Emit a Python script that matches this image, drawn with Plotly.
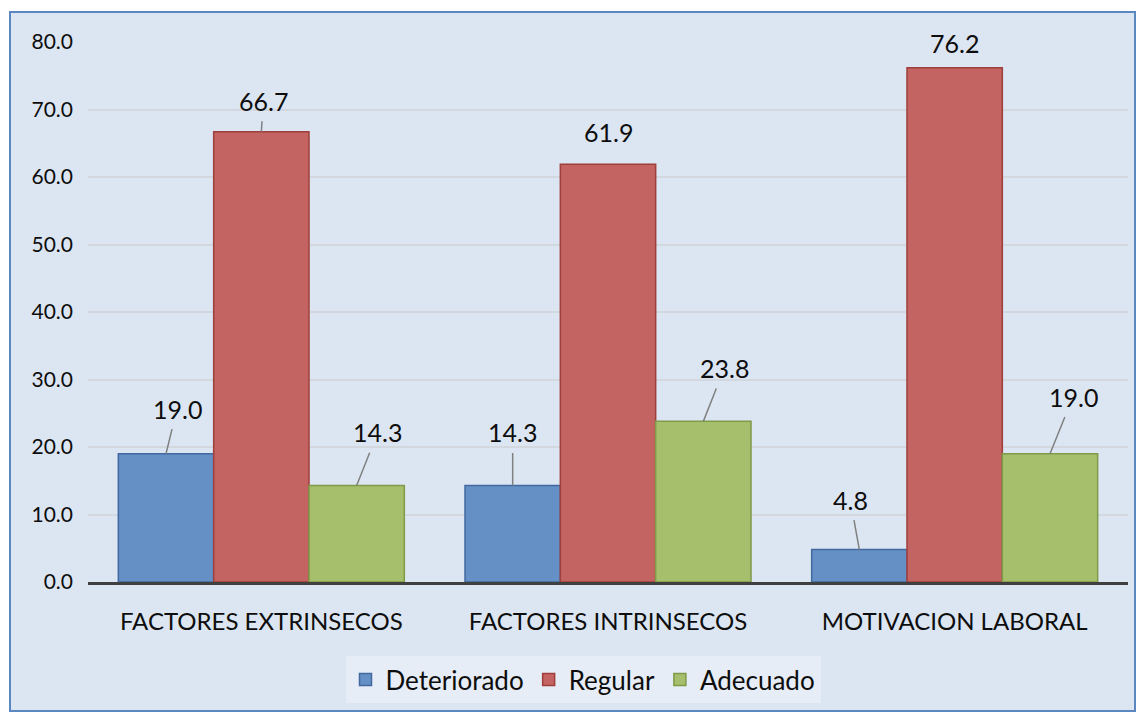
import plotly.graph_objects as go

categories = ["FACTORES EXTRINSECOS", "FACTORES INTRINSECOS", "MOTIVACION LABORAL"]
series_names = ["Deteriorado", "Regular", "Adecuado"]
deteriorado = [19.0, 14.3, 4.8]
regular = [66.7, 61.9, 76.2]
adecuado = [14.3, 23.8, 19.0]
y_ticks = [0, 10, 20, 30, 40, 50, 60, 70, 80]

values = [deteriorado, regular, adecuado]
fills = ["#6490c6", "#c46462", "#a5bf6c"]
outlines = ["#41699f", "#9e3f3c", "#7e9b48"]

# label offsets (pixels) for the data-label callouts: (ax, ay, draw_line)
label_offsets = [
    [(11, -45, True), (0, -53, True), (-9, -50, True)],
    [(2, -31, True), (0, -32, False), (0, -25, False)],
    [(21, -53, True), (21, -53, True), (23, -57, True)],
]

FONT = "Lato"
TXT = "#0d0d0d"
bargap = 0.175
bar_w = (1 - bargap) / 3

fig = go.Figure()
xs = list(range(len(categories)))
for k, name in enumerate(series_names):
    fig.add_trace(go.Bar(
        x=xs, y=values[k], name=name,
        marker=dict(color=fills[k], line=dict(color=outlines[k], width=1.5)),
    ))

annotations = []
for k in range(3):
    for i in xs:
        v = values[k][i]
        xc = i + (k - 1) * bar_w
        ax, ay, line = label_offsets[k][i]
        if line:
            annotations.append(dict(
                x=xc, y=v, xref="x", yref="y", text=f"{v:.1f}",
                showarrow=True, arrowhead=0, arrowwidth=1.5, arrowcolor="#808080",
                ax=ax, ay=ay, standoff=0, startstandoff=4,
                font=dict(family=FONT, size=25, color=TXT),
            ))
        else:
            annotations.append(dict(
                x=xc, y=v, xref="x", yref="y", text=f"{v:.1f}",
                showarrow=False, yshift=-ay, xshift=ax,
                font=dict(family=FONT, size=25, color=TXT),
            ))

L, R, T, B = 88, 17, 42, 140
W, H = 1145, 722
pw, ph = W - L - R, H - T - B

def px_x(p):
    return (p - L) / pw

def px_y(p):
    return (H - B - p) / ph

fig.add_shape(type="rect", xref="paper", yref="paper",
              x0=px_x(10), x1=px_x(1135), y0=px_y(711), y1=px_y(12),
              fillcolor="#dce6f2", line=dict(color="#5b87c0", width=2), layer="below")

fig.update_layout(
    width=W, height=H,
    margin=dict(l=L, r=R, t=T, b=B),
    paper_bgcolor="#ffffff",
    plot_bgcolor="rgba(0,0,0,0)",
    barmode="group", bargap=bargap, bargroupgap=0,
    annotations=annotations,
    font=dict(family=FONT, color=TXT),
    legend=dict(
        orientation="h", x=px_x(583), xanchor="center", y=px_y(656), yanchor="top",
        bgcolor="#e7edf6", font=dict(family=FONT, size=26, color=TXT),
        traceorder="normal", itemclick=False,
    ),
    xaxis=dict(
        range=[-0.5, 2.5], tickvals=xs, ticktext=categories,
        showgrid=False, zeroline=False,
        showline=True, linecolor="#404040", linewidth=3,
        ticks="", ticklabelstandoff=16,
        tickfont=dict(family=FONT, size=24, color=TXT),
        fixedrange=True,
    ),
    yaxis=dict(
        range=[0, 80], tickvals=y_ticks, tickformat=".1f",
        showgrid=True, gridcolor="#d3d8de", gridwidth=1.5,
        zeroline=False, showline=False, ticks="", ticklabelstandoff=14,
        tickfont=dict(family=FONT, size=21, color=TXT),
        fixedrange=True,
    ),
    showlegend=True,
)

fig.write_html("out.html")
